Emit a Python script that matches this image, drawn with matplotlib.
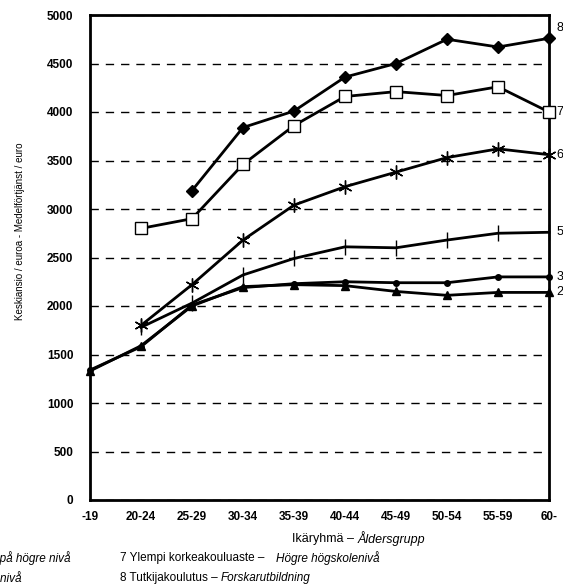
import numpy as np
import matplotlib
matplotlib.use('Agg')
from matplotlib import pyplot as plt

# age groups and mean monthly earnings by education level
categories = ['-19', '20-24', '25-29', '30-34', '35-39', '40-44', '45-49', '50-54', '55-59', '60-']
nan = np.nan
s8 = [nan, nan, 3190, 3840, 4010, 4360, 4500, 4750, 4670, 4760]
s7 = [nan, 2800, 2900, 3460, 3860, 4160, 4210, 4170, 4260, 4000]
s6 = [nan, 1800, 2220, 2680, 3040, 3230, 3380, 3530, 3620, 3560]
s5 = [nan, 1780, 2030, 2320, 2490, 2610, 2600, 2680, 2750, 2760]
s3 = [1340, 1580, 2010, 2190, 2230, 2250, 2240, 2240, 2300, 2300]
s2 = [1330, 1590, 2000, 2200, 2220, 2210, 2150, 2110, 2140, 2140]
yticks = list(range(0, 5001, 500))

FONT = ['Liberation Sans', 'DejaVu Sans']

fig = plt.figure(figsize=(5.63, 5.86), dpi=100)
ax = fig.add_axes([90/563, 1-500/586, 459/563, 485/586])

x = np.arange(len(categories))
series = [
    ('8', s8, dict(marker='D', ms=6, mfc='black')),
    ('7', s7, dict(marker='s', ms=9, mfc='white')),
    ('6', s6, dict(marker=(6, 2, 0), ms=10, mew=1.0)),
    ('5', s5, dict(marker='|', ms=11, mew=1.0)),
    ('3', s3, dict(marker='o', ms=4, mfc='black')),
    ('2', s2, dict(marker='^', ms=6, mfc='black')),
]
label_y = {'8': 4870}
for name, vals, style in series:
    ax.plot(x, vals, color='black', lw=2, mec='black', zorder=3, clip_on=False, **style)
    ax.text(9.15, label_y.get(name, vals[-1]), name, va='center', ha='left',
            fontsize=9, family=FONT, clip_on=False)

ax.set_xlim(0, 9)
ax.set_ylim(0, 5000)
ax.set_xticks(x)
ax.set_xticklabels(categories, fontsize=8.5, fontweight='bold', family=FONT)
ax.set_yticks(yticks)
ax.set_yticklabels([str(v) for v in yticks], fontsize=8.5, fontweight='bold', family=FONT)
ax.tick_params(length=0)
ax.tick_params(axis='x', pad=8)
ax.tick_params(axis='y', pad=12)
ax.yaxis.grid(True, color='black', lw=1.0, linestyle=(0, (6, 5)))
ax.set_axisbelow(True)
for sp in ax.spines.values():
    sp.set_linewidth(2)
    sp.set_color('black')

fig.text(20/563, 1-231/586, 'Keskiansio / euroa - Medelförtjänst / euro', rotation=90,
         ha='center', va='center', fontsize=7, family=FONT)

renderer = fig.canvas.get_renderer()


def two_part(x0, y0, plain, italic, size, gap=0):
    # plain text followed by an italic part
    t = fig.text(x0/563, 1-y0/586, plain, ha='left', va='center', fontsize=size, family=FONT)
    bb = t.get_window_extent(renderer)
    fig.text((bb.x1 + gap)/563, 1-y0/586, italic, ha='left', va='center', fontsize=size,
             family=FONT, style='italic')


two_part(292, 539, 'Ikäryhmä – ', 'Åldersgrupp', 9)

# left legend column, cut by the figure edge
fig.text(70/563, 1-558/586, 'Lägsta nivån på högre nivå', ha='right', va='center', fontsize=8.5,
         family=FONT, style='italic')
fig.text(22/563, 1-578/586, 'Lägre högskolenivå', ha='right', va='center', fontsize=8.5,
         family=FONT, style='italic')

two_part(120, 558, '7 Ylempi korkeakouluaste – ', 'Högre högskolenivå', 8.5, gap=8)
two_part(120, 578, '8 Tutkijakoulutus – ', 'Forskarutbildning', 8.5)

fig.savefig('out.png', dpi=100)
